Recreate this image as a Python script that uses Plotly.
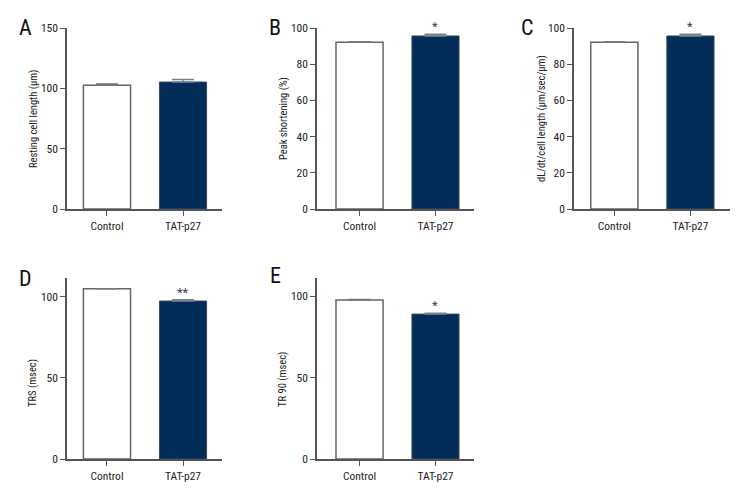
import plotly.graph_objects as go

W, H = 756, 504
OFF = 8  # page body margin offset of the figure div
categories = ["Control", "TAT-p27"]

panel_letters = ["A", "B", "C", "D", "E"]
y_titles = ["Resting cell length (µm)", "Peak shortening (%)",
            "dL/dt/cell length (µm/sec/µm)", "TRS (msec)", "TR 90 (msec)"]
means_A = [102.5, 105.2]
errs_A = [1.0, 2.2]
means_B = [92.1, 95.6]
errs_B = [0.3, 0.9]
means_C = [92.1, 95.6]
errs_C = [0.3, 0.9]
means_D = [105.1, 97.5]
errs_D = [0.0, 0.8]
means_E = [97.7, 89.1]
errs_E = [0.4, 0.6]
stars = ["", "*", "*", "**", "*"]
y_ticks = [[0, 50, 100, 150], [0, 20, 40, 60, 80, 100], [0, 20, 40, 60, 80, 100],
           [0, 50, 100], [0, 50, 100]]
y_ranges = [[0, 150], [0, 100], [0, 100], [0, 111.7], [0, 111.3]]

means = [means_A, means_B, means_C, means_D, means_E]
errs = [errs_A, errs_B, errs_C, errs_D, errs_E]

# layout in screen pixels: (x0, x1, ytop, ybottom, xrange)
boxes = [
    (67, 222, 28, 209, [-0.526, 1.513]),
    (317, 474, 28, 209, [-0.56, 1.507]),
    (574, 730, 28, 209, [-0.53, 1.52]),
    (67, 222, 278, 459, [-0.526, 1.513]),
    (317, 474, 278, 459, [-0.56, 1.507]),
]
letter_pos = [(25, 28), (275, 28), (527, 28), (25, 278), (275, 275)]
title_pos = [(33, 119), (283, 119), (541, 119), (32, 383), (282, 380)]


def px(s):
    return (s - OFF) / W


def py(s):
    return 1 - (s - OFF) / H


FONT = "Roboto Condensed, Liberation Sans Narrow, DejaVu Sans Condensed, Open Sans Condensed, Roboto, sans-serif"
NAVY = "#022d59"
AXC = "#555555"

fig = go.Figure()
annotations = []
for i in range(5):
    x0, x1, yt, yb, xr = boxes[i]
    xa = "x" if i == 0 else f"x{i+1}"
    ya = "y" if i == 0 else f"y{i+1}"
    fig.add_trace(go.Bar(
        x=[0], y=[means[i][0]], width=0.62, xaxis=xa, yaxis=ya,
        marker=dict(color="white", line=dict(color="#666666", width=1.5)),
        error_y=dict(type="data", symmetric=False, array=[errs[i][0]], arrayminus=[0],
                     color="#777777", thickness=1.5, width=11),
        showlegend=False, hoverinfo="skip"))
    fig.add_trace(go.Bar(
        x=[1], y=[means[i][1]], width=0.62, xaxis=xa, yaxis=ya,
        marker=dict(color=NAVY, line=dict(color="#3a4a5c", width=1)),
        error_y=dict(type="data", symmetric=False, array=[errs[i][1]], arrayminus=[0],
                     color="#7a8290", thickness=1.5, width=11),
        showlegend=False, hoverinfo="skip"))
    xkey = "xaxis" if i == 0 else f"xaxis{i+1}"
    ykey = "yaxis" if i == 0 else f"yaxis{i+1}"
    fig.update_layout(**{
        xkey: dict(domain=[px(x0), px(x1)], range=xr, anchor=ya, automargin=False,
                   tickvals=[0, 1], ticktext=categories, ticks="outside", ticklen=5,
                   tickcolor=AXC, showline=True, linecolor=AXC, linewidth=1.5,
                   showgrid=False, zeroline=False, fixedrange=True,
                   tickfont=dict(family=FONT, size=11.5, color="#222")),
        ykey: dict(domain=[py(yb), py(yt)], range=y_ranges[i], anchor=xa,
                   automargin=False,
                   tickvals=y_ticks[i], ticks="outside", ticklen=5, tickcolor=AXC,
                   showline=True, linecolor=AXC, linewidth=1.5, showgrid=False,
                   zeroline=False, fixedrange=True,
                   tickfont=dict(family=FONT, size=11.5, color="#222")),
    })
    lx, ly = letter_pos[i]
    annotations.append(dict(x=px(lx), y=py(ly), xref="paper", yref="paper",
                            text=panel_letters[i], showarrow=False,
                            font=dict(family=FONT, size=22, color="#111"),
                            xanchor="center", yanchor="middle"))
    tx, ty = title_pos[i]
    annotations.append(dict(x=px(tx), y=py(ty), xref="paper", yref="paper",
                            text=y_titles[i], showarrow=False, textangle=-90,
                            font=dict(family=FONT, size=10.5, color="#222"),
                            xanchor="center", yanchor="middle"))
    if stars[i]:
        annotations.append(dict(x=1, y=means[i][1] + errs[i][1], xref=xa, yref=ya,
                                text=stars[i], showarrow=False, yshift=-2,
                                font=dict(family=FONT, size=13, color="#444"),
                                xanchor="center", yanchor="bottom"))

fig.update_layout(width=W, height=H, margin=dict(l=0, r=0, t=0, b=0),
                  paper_bgcolor="white", plot_bgcolor="white",
                  annotations=annotations, barmode="overlay")
fig.write_html("out.html")
